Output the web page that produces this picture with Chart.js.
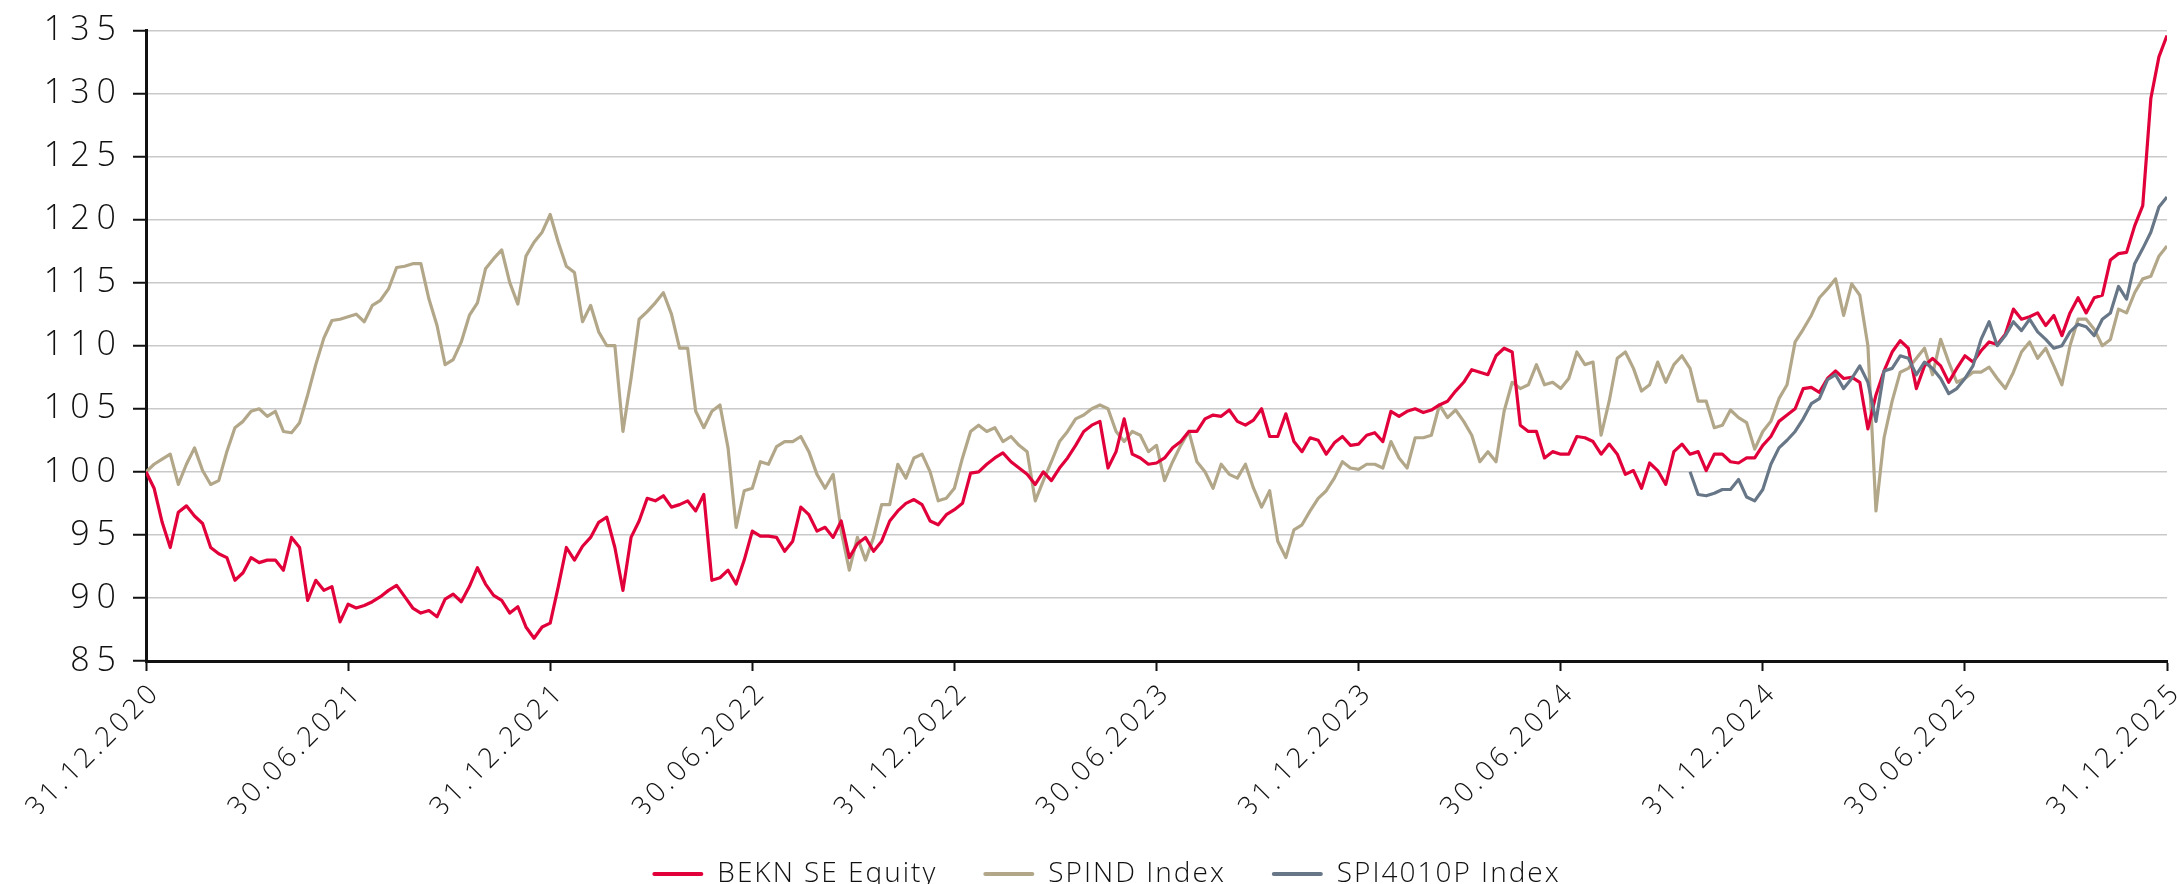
<!DOCTYPE html>
<html>
<head>
<meta charset="utf-8">
<title>BEKN SE Equity vs. SPIND / SPI4010P</title>
<script src="https://cdn.jsdelivr.net/npm/chart.js@4.4.1/dist/chart.umd.min.js"></script>
<style>
    html, body { margin: 0; padding: 0; background: #ffffff; }
    #wrap { width: 2177px; height: 884px; }
</style>
</head>
<body>
<div id="wrap"><canvas id="perfChart" width="2177" height="884"></canvas></div>
<script>
// Half-year dates shown on the x axis
const tickLabels = ['31.12.2020', '30.06.2021', '31.12.2021', '30.06.2022', '31.12.2022', '30.06.2023',
                    '31.12.2023', '30.06.2024', '31.12.2024', '30.06.2025', '31.12.2025'];

// Samples per half-year (roughly weekly)
const STEPS_PER_HALF = 25;

// BEKN SE Equity, rebased to 100 (one row per half-year)
const bekn = [
    100.0, 98.7, 96.0, 94.0, 96.8, 97.3, 96.5, 95.9, 94.0, 93.5, 93.2, 91.4, 92.0, 93.2, 92.8, 93.0, 93.0, 92.2, 94.8, 94.0, 89.8, 91.4, 90.6, 90.9, 88.1,
    89.5, 89.2, 89.4, 89.7, 90.1, 90.6, 91.0, 90.1, 89.2, 88.8, 89.0, 88.5, 89.9, 90.3, 89.7, 90.9, 92.4, 91.1, 90.2, 89.8, 88.8, 89.3, 87.7, 86.8, 87.7,
    88.0, 90.9, 94.0, 93.0, 94.1, 94.8, 96.0, 96.4, 94.0, 90.6, 94.8, 96.1, 97.9, 97.7, 98.1, 97.2, 97.4, 97.7, 96.9, 98.2, 91.4, 91.6, 92.2, 91.1, 93.0,
    95.3, 94.9, 94.9, 94.8, 93.7, 94.5, 97.2, 96.6, 95.3, 95.6, 94.8, 96.1, 93.2, 94.3, 94.8, 93.7, 94.5, 96.1, 96.9, 97.5, 97.8, 97.4, 96.1, 95.8, 96.6,
    97.0, 97.5, 99.9, 100.0, 100.6, 101.1, 101.5, 100.8, 100.3, 99.8, 99.0, 100.0, 99.3, 100.3, 101.1, 102.1, 103.2, 103.7, 104.0, 100.3, 101.6, 104.2, 101.4, 101.1, 100.6,
    100.7, 101.1, 101.9, 102.4, 103.2, 103.2, 104.2, 104.5, 104.4, 104.9, 104.0, 103.7, 104.1, 105.0, 102.8, 102.8, 104.6, 102.4, 101.6, 102.7, 102.5, 101.4, 102.3, 102.8, 102.1,
    102.2, 102.9, 103.1, 102.4, 104.8, 104.4, 104.8, 105.0, 104.7, 104.9, 105.3, 105.6, 106.4, 107.1, 108.1, 107.9, 107.7, 109.2, 109.8, 109.5, 103.7, 103.2, 103.2, 101.1, 101.6,
    101.4, 101.4, 102.8, 102.7, 102.4, 101.4, 102.2, 101.4, 99.8, 100.1, 98.7, 100.7, 100.1, 99.0, 101.6, 102.2, 101.4, 101.6, 100.1, 101.4, 101.4, 100.8, 100.7, 101.1, 101.1,
    102.1, 102.8, 104.0, 104.5, 105.0, 106.6, 106.7, 106.3, 107.4, 108.0, 107.4, 107.5, 107.1, 103.4, 106.1, 108.0, 109.5, 110.4, 109.8, 106.6, 108.4, 109.0, 108.4, 107.1, 108.2,
    109.2, 108.7, 109.6, 110.3, 110.1, 110.9, 112.9, 112.1, 112.3, 112.6, 111.6, 112.4, 110.8, 112.6, 113.8, 112.6, 113.8, 114.0, 116.8, 117.3, 117.4, 119.5, 121.1, 129.6, 132.9,
    134.6
];

// SPIND Index, rebased to 100
const spind = [
    100.0, 100.6, 101.0, 101.4, 99.0, 100.6, 101.9, 100.1, 99.0, 99.3, 101.6, 103.5, 104.0, 104.8, 105.0, 104.4, 104.8, 103.2, 103.1, 103.9, 106.1, 108.5, 110.6, 112.0, 112.1,
    112.3, 112.5, 111.9, 113.2, 113.6, 114.5, 116.2, 116.3, 116.5, 116.5, 113.7, 111.6, 108.5, 108.9, 110.3, 112.4, 113.4, 116.1, 116.9, 117.6, 115.0, 113.3, 117.1, 118.2, 119.0,
    120.4, 118.2, 116.3, 115.8, 111.9, 113.2, 111.1, 110.0, 110.0, 103.2, 107.4, 112.1, 112.7, 113.4, 114.2, 112.5, 109.8, 109.8, 104.8, 103.5, 104.8, 105.3, 101.9, 95.6, 98.5,
    98.7, 100.8, 100.6, 102.0, 102.4, 102.4, 102.8, 101.6, 99.8, 98.7, 99.8, 95.3, 92.2, 94.8, 93.0, 94.8, 97.4, 97.4, 100.6, 99.5, 101.1, 101.4, 100.0, 97.7, 97.9,
    98.7, 101.1, 103.2, 103.7, 103.2, 103.5, 102.4, 102.8, 102.1, 101.6, 97.7, 99.3, 100.8, 102.4, 103.2, 104.2, 104.5, 105.0, 105.3, 105.0, 103.2, 102.4, 103.2, 102.9, 101.6,
    102.1, 99.3, 100.8, 102.1, 103.2, 100.8, 100.0, 98.7, 100.6, 99.8, 99.5, 100.6, 98.7, 97.2, 98.5, 94.5, 93.2, 95.4, 95.8, 96.9, 97.9, 98.5, 99.5, 100.8, 100.3,
    100.2, 100.6, 100.6, 100.3, 102.4, 101.1, 100.3, 102.7, 102.7, 102.9, 105.3, 104.3, 104.9, 104.0, 102.9, 100.8, 101.6, 100.8, 104.8, 107.1, 106.6, 106.9, 108.5, 106.9, 107.1,
    106.6, 107.4, 109.5, 108.5, 108.7, 102.9, 105.6, 109.0, 109.5, 108.2, 106.4, 106.9, 108.7, 107.1, 108.5, 109.2, 108.2, 105.6, 105.6, 103.5, 103.7, 104.9, 104.3, 103.9, 101.8,
    103.2, 104.0, 105.8, 106.9, 110.3, 111.3, 112.4, 113.8, 114.5, 115.3, 112.4, 114.9, 114.0, 110.0, 96.9, 102.7, 105.6, 107.9, 108.2, 109.0, 109.8, 107.7, 110.5, 108.7, 107.1,
    107.4, 107.9, 107.9, 108.3, 107.4, 106.6, 107.9, 109.5, 110.3, 109.0, 109.8, 108.4, 106.9, 110.0, 112.1, 112.1, 111.3, 110.0, 110.5, 112.9, 112.6, 114.2, 115.3, 115.5, 117.1,
    117.9
];

// SPI4010P Index, starts late in 2024 (sample index 191)
const spi4010pStart = 191;
const spi4010p = [
    100.0, 98.2, 98.1, 98.3, 98.6, 98.6, 99.4, 98.0, 97.7,
    98.6, 100.6, 101.9, 102.5, 103.2, 104.2, 105.4, 105.8, 107.3, 107.7, 106.6, 107.4, 108.4, 107.1, 104.0, 108.0, 108.2, 109.2, 109.0, 107.7, 108.7, 108.2, 107.4, 106.2, 106.6,
    107.4, 108.4, 110.5, 111.9, 110.0, 110.8, 111.9, 111.2, 112.1, 111.1, 110.5, 109.8, 110.0, 111.1, 111.7, 111.5, 110.8, 112.1, 112.6, 114.7, 113.7, 116.5, 117.7, 119.0, 121.0,
    121.8
];

// Colours
const RED = '#e2003b';
const TAN = '#b3a78a';
const SLATE = '#687788';

const FONT_FAMILY = "'Open Sans', 'DejaVu Sans', sans-serif";
const TEXT_COLOR = '#111111';

// Extra letter spacing (the original font is a wide grotesque)
const tickSpacing = { x: '3.8px', y: '7px' };
const legendSpacing = '2px';

// Turn a value list into {x, y} points on the sample index axis
function toPoints(values, start) {
    return values.map((v, k) => ({ x: start + k, y: v }));
}

// Run fn with a letter spacing set on the canvas context
function withSpacing(ctx, spacing, fn) {
    ctx.save();
    ctx.letterSpacing = spacing;
    fn();
    ctx.restore();
}

// Plugin: widen tick labels and legend text with canvas letterSpacing
const spacedText = {
    id: 'spacedText',
    beforeUpdate(chart) {
        const legend = chart.legend;
        if (legend && !legend._spacedWrap) {
            const fit = legend.fit;
            const draw = legend.draw;
            legend.fit = function() { withSpacing(this.ctx, legendSpacing, () => fit.call(this)); };
            legend.draw = function(area) { withSpacing(this.ctx, legendSpacing, () => draw.call(this, area)); };
            legend._spacedWrap = true;
        }
    },
    beforeDraw(chart) {
        Object.keys(tickSpacing).forEach(id => {
            const scale = chart.scales[id];
            if (!scale || scale._spacedWrap) return;
            const drawLabels = scale.drawLabels;
            scale.drawLabels = function(area) {
                withSpacing(this.ctx, tickSpacing[id], () => drawLabels.call(this, area));
            };
            scale._spacedWrap = true;
        });
    }
};

document.addEventListener('DOMContentLoaded', function() {
    const ctx = document.getElementById('perfChart');

    new Chart(ctx, {
        type: 'line',
        data: {
            datasets: [
                {
                    label: 'BEKN SE Equity',
                    data: toPoints(bekn, 0),
                    borderColor: RED,
                    backgroundColor: RED,
                    order: 1
                },
                {
                    label: 'SPIND Index',
                    data: toPoints(spind, 0),
                    borderColor: TAN,
                    backgroundColor: TAN,
                    order: 2
                },
                {
                    label: 'SPI4010P Index',
                    data: toPoints(spi4010p, spi4010pStart),
                    borderColor: SLATE,
                    backgroundColor: SLATE,
                    order: 0
                }
            ]
        },
        options: {
            responsive: false,
            animation: false,
            devicePixelRatio: 1,
            layout: {
                padding: { left: 46, right: 10, top: 26, bottom: -14 }
            },
            elements: {
                point: { radius: 0, hoverRadius: 0 },
                line: { borderWidth: 3.2, tension: 0, borderJoinStyle: 'round' }
            },
            plugins: {
                legend: {
                    position: 'bottom',
                    align: 'center',
                    labels: {
                        font: { family: FONT_FAMILY, size: 28, weight: 300 },
                        color: TEXT_COLOR,
                        boxWidth: 51,
                        boxHeight: 4,
                        padding: 46,
                        sort: (a, b) => a.datasetIndex - b.datasetIndex,
                        generateLabels: function(chart) {
                            const items = Chart.defaults.plugins.legend.labels.generateLabels(chart);
                            return items.map(item => Object.assign(item, { lineWidth: 0, borderRadius: 2 }));
                        }
                    }
                },
                tooltip: { enabled: false }
            },
            scales: {
                x: {
                    type: 'linear',
                    min: 0,
                    max: (tickLabels.length - 1) * STEPS_PER_HALF,
                    afterBuildTicks: function(scale) {
                        scale.ticks = tickLabels.map((_, k) => ({ value: k * STEPS_PER_HALF }));
                    },
                    afterFit: function(scale) {
                        scale.height = 153;
                        scale.paddingRight = 0;
                    },
                    ticks: {
                        autoSkip: false,
                        minRotation: 45,
                        maxRotation: 45,
                        padding: 5,
                        labelOffset: 10,
                        font: { family: FONT_FAMILY, size: 27.5, weight: 300 },
                        color: TEXT_COLOR,
                        callback: function(value) {
                            return tickLabels[Math.round(value / STEPS_PER_HALF)];
                        }
                    },
                    grid: {
                        drawOnChartArea: false,
                        drawTicks: true,
                        tickLength: 10,
                        tickColor: '#111111',
                        tickWidth: 2
                    },
                    border: { color: '#111111', width: 3 }
                },
                y: {
                    min: 85,
                    max: 135,
                    afterFit: function(scale) {
                        scale.width = 100;
                    },
                    ticks: {
                        stepSize: 5,
                        padding: 10,
                        font: { family: FONT_FAMILY, size: 34, weight: 300 },
                        color: TEXT_COLOR
                    },
                    grid: {
                        color: '#c9c9c9',
                        lineWidth: 1.5,
                        tickColor: '#111111',
                        tickWidth: 2,
                        tickLength: 13
                    },
                    border: { color: '#111111', width: 3 }
                }
            }
        },
        plugins: [spacedText]
    });
});
</script>
</body>
</html>
